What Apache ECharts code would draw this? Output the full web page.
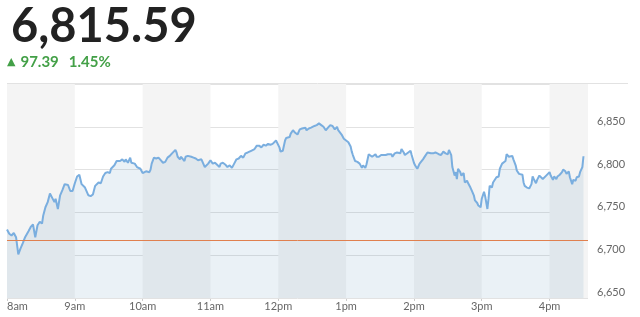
<!DOCTYPE html>
<html>
<head>
<meta charset="utf-8">
<script src="https://cdn.jsdelivr.net/npm/echarts@6/dist/echarts.min.js"></script>
<style>
  html, body { margin: 0; padding: 0; background: #fff; }
  #chart { width: 640px; height: 317px; }
</style>
</head>
<body>
<div id="chart"></div>
<script>
// ---- data (minutes after 8:00am, index level) ----
const minutes = [
  0, 2, 4, 6, 8, 10, 12, 14, 16, 19, 21, 23, 24, 25, 27, 29, 31, 32, 34, 36,
  38, 40, 42, 43, 45, 47, 49, 51, 54, 56, 58, 60, 62, 64, 66, 69, 70, 72, 74, 76,
  78, 81, 83, 85, 87, 89, 91, 92, 95, 97, 98, 100, 102, 104, 105, 107, 109, 110, 113, 115,
  116, 118, 120, 121, 123, 126, 127, 128, 130, 132, 134, 136, 138, 140, 142, 144, 146, 147, 149, 150,
  151, 153, 154, 157, 158, 160, 163, 165, 167, 169, 172, 173, 175, 178, 180, 181, 182, 184, 185, 188,
  189, 191, 193, 195, 197, 199, 201, 203, 205, 207, 209, 211, 213, 214, 216, 219, 221, 223, 225, 227,
  229, 231, 233, 235, 236, 238, 239, 241, 242, 244, 246, 247, 250, 251, 253, 255, 257, 259, 261, 262,
  264, 265, 267, 269, 270, 272, 274, 276, 278, 280, 282, 284, 286, 288, 290, 292, 293, 296, 298, 300,
  302, 304, 305, 306, 308, 310, 312, 314, 315, 317, 318, 320, 321, 323, 324, 326, 327, 329, 331, 332,
  335, 336, 337, 340, 341, 343, 345, 346, 348, 349, 351, 352, 355, 357, 358, 360, 361, 363, 364, 365,
  368, 370, 372, 373, 375, 377, 379, 382, 384, 386, 388, 390, 391, 393, 394, 396, 397, 398, 399, 401,
  402, 404, 405, 407, 408, 410, 411, 413, 414, 416, 417, 419, 420, 422, 423, 425, 426, 427, 429, 430,
  433, 435, 436, 438, 439, 441, 442, 444, 447, 448, 450, 451, 453, 454, 456, 457, 458, 460, 462, 464,
  465, 466, 468, 469, 471, 472, 474, 475, 477, 478, 480, 481, 483, 484, 486, 487, 489, 491, 492, 494,
  495, 497, 498, 500, 501, 503, 504, 506, 507, 509, 510
];
const prices = [
  6730, 6725, 6723, 6726, 6721, 6701, 6708, 6714, 6721, 6728, 6733, 6736, 6738, 6721, 6735, 6739, 6737, 6746, 6756, 6762,
  6772, 6767, 6762, 6766, 6754, 6770, 6776, 6783, 6782, 6775, 6775, 6784, 6792, 6794, 6783, 6779, 6781, 6770, 6769, 6771,
  6781, 6785, 6784, 6792, 6796, 6797, 6796, 6801, 6805, 6810, 6808, 6810, 6812, 6809, 6812, 6808, 6814, 6808, 6807, 6803,
  6801, 6801, 6796, 6795, 6798, 6797, 6800, 6807, 6814, 6813, 6814, 6811, 6808, 6809, 6814, 6816, 6819, 6821, 6823, 6820,
  6815, 6812, 6815, 6810, 6815, 6816, 6815, 6814, 6813, 6811, 6812, 6811, 6803, 6807, 6811, 6809, 6807, 6808, 6807, 6803,
  6807, 6808, 6806, 6803, 6805, 6802, 6807, 6812, 6813, 6816, 6814, 6819, 6820, 6818, 6822, 6824, 6828, 6828, 6826, 6829,
  6828, 6830, 6829, 6830, 6830, 6834, 6833, 6826, 6821, 6822, 6834, 6837, 6838, 6842, 6846, 6843, 6841, 6847, 6848, 6847,
  6849, 6846, 6848, 6849, 6848, 6851, 6852, 6854, 6852, 6850, 6846, 6849, 6852, 6851, 6847, 6850, 6846, 6841, 6836, 6834,
  6832, 6827, 6821, 6817, 6810, 6809, 6807, 6802, 6805, 6802, 6806, 6818, 6817, 6815, 6817, 6818, 6815, 6815, 6817, 6819,
  6817, 6819, 6818, 6818, 6815, 6819, 6820, 6821, 6819, 6824, 6820, 6817, 6820, 6822, 6817, 6808, 6805, 6801, 6802, 6807,
  6812, 6816, 6820, 6822, 6819, 6819, 6820, 6818, 6817, 6821, 6819, 6818, 6823, 6817, 6803, 6793, 6797, 6789, 6801, 6797,
  6793, 6796, 6785, 6787, 6784, 6779, 6776, 6770, 6764, 6761, 6758, 6756, 6766, 6774, 6769, 6754, 6766, 6781, 6779, 6785,
  6791, 6792, 6801, 6807, 6805, 6810, 6818, 6815, 6816, 6812, 6805, 6799, 6795, 6797, 6794, 6785, 6781, 6779, 6778, 6783,
  6792, 6789, 6784, 6788, 6793, 6795, 6789, 6787, 6793, 6791, 6797, 6793, 6788, 6792, 6789, 6792, 6794, 6797, 6800, 6798,
  6795, 6798, 6791, 6783, 6788, 6787, 6791, 6792, 6797, 6803, 6815.59
];
const hourLabels = ['8am', '9am', '10am', '11am', '12pm', '1pm', '2pm', '3pm', '4pm'];
const hourTicks = [0, 60, 120, 180, 240, 300, 360, 420, 480];
const shadedHours = [[0, 60], [120, 180], [240, 300], [360, 420], [480, 514]];
const axisEnd = 514;
const previousClose = 6717;
const lastValue = 6815.59;
const netChange = 97.39;
const pctChange = 1.45;

const chart = echarts.init(document.getElementById('chart'), null, { renderer: 'canvas' });
const fmt = (v) => v.toLocaleString('en-US', { minimumFractionDigits: 2, maximumFractionDigits: 2 });

chart.setOption({
  animation: false,
  backgroundColor: '#ffffff',
  title: [
    {
      text: fmt(lastValue),
      left: 11, top: 2, padding: 0,
      textStyle: { fontFamily: 'Lato', fontWeight: 'bold', fontSize: 47, color: '#222222', lineHeight: 50 }
    },
    {
      text: '{tri|▲}{v|' + netChange.toFixed(2) + '}{p|' + pctChange.toFixed(2) + '%}',
      left: 7, top: 54, padding: 0,
      textStyle: {
        rich: {
          tri: { fontSize: 11, color: '#43a047', fontFamily: 'DejaVu Sans', lineHeight: 16 },
          v: { fontSize: 15, color: '#43a047', fontFamily: 'Lato', lineHeight: 16, padding: [0, 0, 0, 5] },
          p: { fontSize: 15, color: '#43a047', fontFamily: 'Lato', lineHeight: 16, padding: [0, 0, 0, 10] }
        }
      }
    }
  ],
  graphic: [
    { type: 'line', shape: { x1: 7, y1: 83.5, x2: 628, y2: 83.5 }, style: { stroke: '#e2e2e2', lineWidth: 1 }, silent: true }
  ],
  grid: { left: 7, right: 52, top: 84, bottom: 19, containLabel: false },
  xAxis: {
    type: 'value',
    min: 0, max: axisEnd, interval: 60,
    axisLine: { show: false },
    axisTick: { show: true, length: 3, lineStyle: { color: '#cccccc' }, customValues: hourTicks },
    axisLabel: {
      customValues: hourTicks,
      formatter: (v) => hourLabels[Math.round(v / 60)] || '',
      color: '#666666', fontFamily: 'Lato', fontSize: 11, margin: 3,
      alignMinLabel: 'left'
    },
    splitLine: { show: false },
    splitArea: { show: false }
  },
  yAxis: {
    type: 'value',
    position: 'right',
    z: 1,
    min: 6650, max: 6900, interval: 50,
    axisLine: { show: false },
    axisTick: { show: false },
    axisLabel: {
      showMaxLabel: false,
      formatter: (v) => v.toLocaleString('en-US'),
      color: '#666666', fontFamily: 'Lato', fontSize: 11, margin: 9,
      verticalAlign: 'bottom', lineHeight: 11
    },
    splitLine: { show: true, lineStyle: { color: '#e2e2e2', width: 1 } }
  },
  series: [
    {
      type: 'line',
      name: 'bands',
      z: 0,
      data: [],
      silent: true,
      markArea: {
        silent: true,
        itemStyle: { color: '#f4f4f4' },
        data: shadedHours.map(([a, b]) => [{ xAxis: a }, { xAxis: b }])
      }
    },
    {
      type: 'line',
      z: 2,
      data: minutes.map((m, i) => [m, prices[i]]),
      showSymbol: false,
      symbol: 'none',
      lineStyle: { color: '#7aaedf', width: 2 },
      areaStyle: { color: 'rgba(70,130,180,0.16)', origin: 'start' },
      markLine: {
        silent: true,
        symbol: ['none', 'none'],
        label: { show: false },
        lineStyle: { color: '#e0804f', width: 1, type: 'solid' },
        data: [{ yAxis: previousClose }]
      }
    }
  ]
});
</script>
</body>
</html>
